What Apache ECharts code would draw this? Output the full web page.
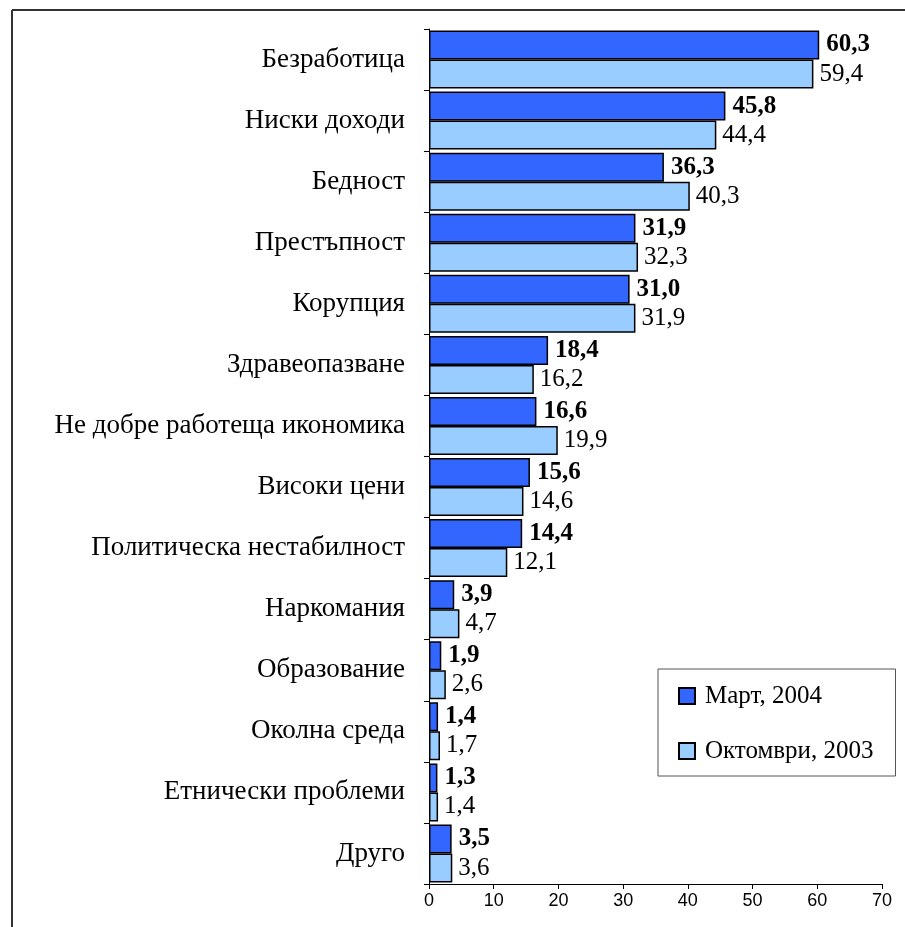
<!DOCTYPE html>
<html>
<head>
<meta charset="utf-8">
<script src="https://cdn.jsdelivr.net/npm/echarts@6/dist/echarts.min.js"></script>
<style>
  html, body { margin: 0; padding: 0; background: #fff; }
  #chart { width: 905px; height: 927px; }
</style>
</head>
<body>
<div id="chart"></div>
<script>
// категории
const categories = [
  'Безработица', 'Ниски доходи', 'Бедност', 'Престъпност', 'Корупция',
  'Здравеопазване', 'Не добре работеща икономика', 'Високи цени',
  'Политическа нестабилност', 'Наркомания', 'Образование', 'Околна среда',
  'Етнически проблеми', 'Друго'
]
const march2004 = [60.3, 45.8, 36.3, 31.9, 31.0, 18.4, 16.6, 15.6, 14.4, 3.9, 1.9, 1.4, 1.3, 3.5]
const october2003 = [59.4, 44.4, 40.3, 32.3, 31.9, 16.2, 19.9, 14.6, 12.1, 4.7, 2.6, 1.7, 1.4, 3.6]
const seriesNames = ['Март, 2004', 'Октомври, 2003']

const serif = 'Liberation Serif, Times New Roman, serif'
const fmt = (p) => p.value.toFixed(1).replace('.', ',')

const chart = echarts.init(document.getElementById('chart'))

chart.setOption({
  backgroundColor: '#fff',
  animation: false,
  grid: { left: 429, right: 23, top: 29, bottom: 43 },
  // рамка
  graphic: [
    { type: 'line', shape: { x1: 12, y1: 10, x2: 905, y2: 10 }, style: { stroke: '#333', lineWidth: 2 } },
    { type: 'line', shape: { x1: 12, y1: 10, x2: 12, y2: 927 }, style: { stroke: '#333', lineWidth: 2 } }
  ],
  legend: {
    orient: 'vertical',
    left: 658,
    top: 669,
    padding: [14, 22, 12, 20],
    itemGap: 29,
    itemWidth: 16,
    itemHeight: 16,
    icon: 'rect',
    borderColor: '#555',
    borderWidth: 1,
    backgroundColor: '#fff',
    textStyle: { fontFamily: serif, fontSize: 25, color: '#000', lineHeight: 26, padding: [0, 0, 0, 5] },
    data: seriesNames
  },
  xAxis: {
    type: 'value',
    min: 0,
    max: 70,
    interval: 10,
    splitLine: { show: false },
    axisLine: { show: true, lineStyle: { color: '#000', width: 1 } },
    axisTick: { show: true, length: 5, lineStyle: { color: '#000' } },
    axisLabel: { fontFamily: 'Liberation Sans, Arial, sans-serif', fontSize: 18, color: '#000', margin: 8 }
  },
  yAxis: {
    type: 'category',
    inverse: true,
    data: categories,
    axisLine: { show: true, lineStyle: { color: '#000', width: 1 } },
    axisTick: { show: true, length: 5, lineStyle: { color: '#000' } },
    axisLabel: { fontFamily: serif, fontSize: 27, color: '#000', margin: 24 }
  },
  series: [
    {
      name: seriesNames[0],
      type: 'bar',
      data: march2004,
      barGap: '0%',
      barCategoryGap: '5%',
      itemStyle: { color: '#3366FF', borderColor: '#000', borderWidth: 1.5 },
      label: {
        show: true, position: 'right', distance: 7, formatter: fmt,
        fontFamily: serif, fontSize: 25, fontWeight: 'bold', color: '#000'
      }
    },
    {
      name: seriesNames[1],
      type: 'bar',
      data: october2003,
      barGap: '0%',
      barCategoryGap: '5%',
      itemStyle: { color: '#99CCFF', borderColor: '#000', borderWidth: 1.5 },
      label: {
        show: true, position: 'right', distance: 6, formatter: fmt,
        fontFamily: serif, fontSize: 25, color: '#000'
      }
    }
  ]
})
</script>
</body>
</html>
